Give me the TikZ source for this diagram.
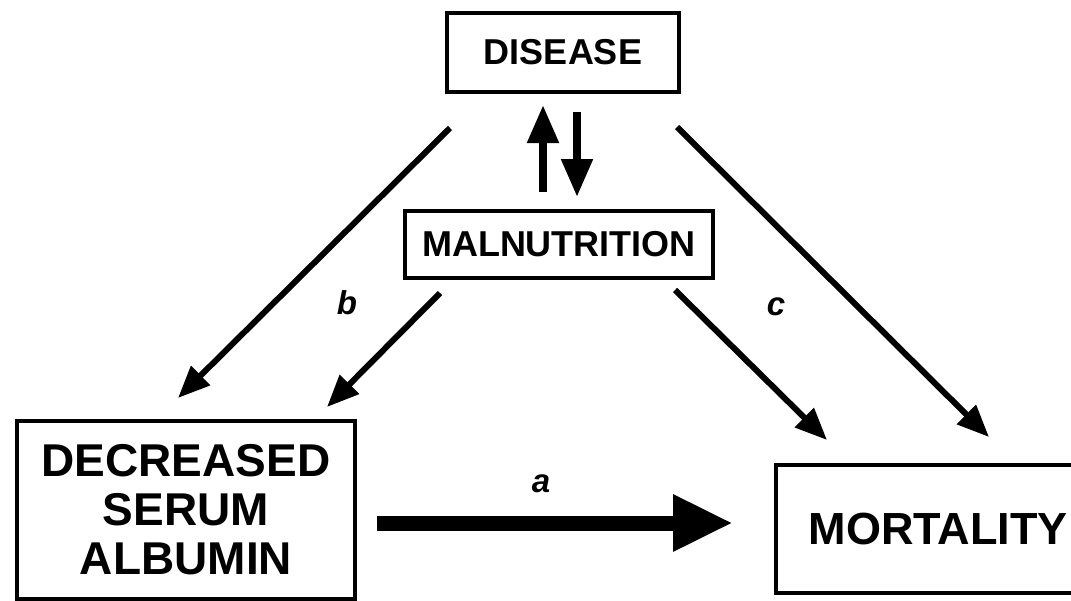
\documentclass[tikz,border=0pt]{standalone}
\usepackage{fontspec}
\setmainfont{Liberation Sans}
\usetikzlibrary{arrows.meta}
\tikzset{
  box/.style={draw=black, line width=3.5pt, inner sep=0pt, fill=white},
  bigfont/.style={font=\fontsize{46}{49}\selectfont\bfseries},
  midfont/.style={font=\fontsize{36}{40}\selectfont\bfseries},
  lab/.style={inner sep=0pt, font=\fontsize{33}{36}\selectfont\bfseries\itshape},
  diag/.style={line width=6pt, -{Triangle[length=32pt,width=26pt]}},
  vert/.style={line width=8pt, -{Triangle[length=38pt,width=30pt]}},
  fat/.style={line width=15pt, -{Triangle[length=60pt,width=53pt]}}
}
\begin{document}
\begin{tikzpicture}[x=1pt,y=-1pt]
\path[use as bounding box] (0,0) rectangle (1071,600);
\clip (0,0) rectangle (1071,600);
\fill[white] (0,0) rectangle (1071,600);

% boxes
\node[box, midfont, minimum width=232pt, minimum height=79pt] (dis) at (563,52.5) {DISEASE};
\node[box, midfont, minimum width=308pt, minimum height=67pt] (mal) at (559,244.5) {MALNUTRITION};
\node[box, bigfont, minimum width=338pt, minimum height=178pt, align=center] (dsa) at (186,510) {DECREASED\\SERUM\\ALBUMIN};
\node[box, bigfont, font=\fontsize{45}{48}\selectfont\bfseries, anchor=west, inner xsep=33pt, minimum height=128pt] (mor) at (774,529) {MORTALITY};

% labels
\node[lab] (la) at (541,484) {a};
\node[lab] (lb) at (347,303) {b};
\node[lab] (lc) at (776,307) {c};

% connector end points
\coordinate (d1) at (450,128);
\coordinate (s1) at (178,398);
\coordinate (m1) at (440,293);
\coordinate (s2) at (327,407);
\coordinate (m2) at (675,290);
\coordinate (o1) at (827,440);
\coordinate (d2) at (677,127);
\coordinate (o2) at (989,437);
\coordinate (u1) at (543,192);
\coordinate (u2) at (543,105);
\coordinate (v1) at (577,112);
\coordinate (v2) at (577,197);
\coordinate (a1) at (377,523);
\coordinate (a2) at (733,523);

% connectors
\draw[diag] (d1) -- (s1);
\draw[diag] (m1) -- (s2);
\draw[diag] (m2) -- (o1);
\draw[diag] (d2) -- (o2);
\draw[vert] (u1) -- (u2);
\draw[vert] (v1) -- (v2);
\draw[fat] (a1) -- (a2);
\end{tikzpicture}
\end{document}
